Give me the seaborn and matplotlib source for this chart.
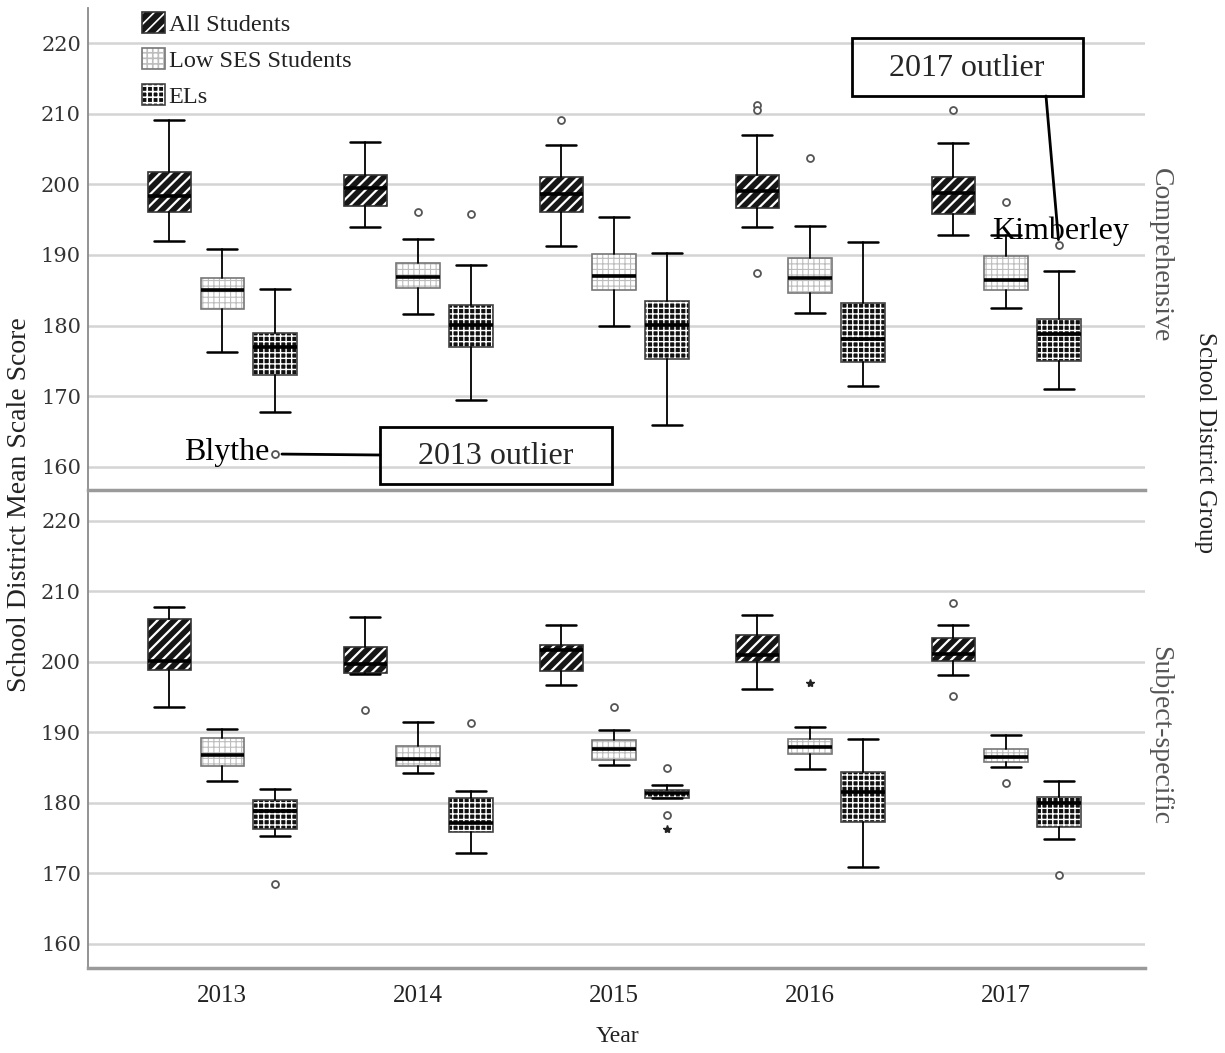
import matplotlib
matplotlib.use("Agg")
import matplotlib.pyplot as plt
import seaborn as sns
from matplotlib.patches import Patch, Rectangle

# ---------------- data ----------------
years = ["2013", "2014", "2015", "2016", "2017"]
groups = ["All Students", "Low SES Students", "ELs"]
panels = ["Comprehensive", "Subject-specific"]

# rows = years; [lower whisker, Q1, median, Q3, upper whisker]
comp_all = [[192.0, 196.1, 198.3, 201.7, 209.1],
            [194.0, 196.9, 199.5, 201.4, 206.0],
            [191.3, 196.1, 198.6, 201.1, 205.6],
            [193.9, 196.7, 199.1, 201.4, 207.0],
            [192.9, 195.8, 198.8, 201.1, 205.9]]
comp_low = [[176.2, 182.4, 185.0, 186.7, 190.8],
            [181.6, 185.3, 186.9, 188.8, 192.2],
            [180.0, 185.1, 187.0, 190.1, 195.4],
            [181.8, 184.6, 186.8, 189.6, 194.1],
            [182.5, 185.1, 186.4, 189.9, 192.8]]
comp_el = [[167.8, 173.0, 176.9, 179.0, 185.2],
           [169.5, 177.0, 180.1, 182.9, 188.6],
           [165.9, 175.2, 180.1, 183.5, 190.3],
           [171.4, 174.8, 178.1, 183.2, 191.8],
           [171.0, 175.0, 178.8, 181.0, 187.8]]
comp_all_out = [[], [], [209.2], [211.2, 210.6, 187.4], [210.5]]
comp_low_out = [[], [196.1], [], [203.8], [197.5]]
comp_el_out = [[161.8], [195.8], [], [], [191.4]]

subj_all = [[193.5, 198.8, 200.1, 206.0, 207.7],
            [198.2, 198.4, 199.7, 202.1, 206.3],
            [196.7, 198.7, 201.7, 202.3, 205.2],
            [196.1, 200.0, 201.0, 203.7, 206.6],
            [198.1, 200.1, 201.1, 203.4, 205.2]]
subj_low = [[183.1, 185.2, 186.8, 189.1, 190.4],
            [184.2, 185.2, 186.2, 188.0, 191.5],
            [185.3, 186.0, 187.6, 188.9, 190.3],
            [184.7, 186.9, 187.9, 189.0, 190.7],
            [185.1, 185.7, 186.4, 187.6, 189.6]]
subj_el = [[175.3, 176.2, 178.8, 180.4, 181.9],
           [172.9, 175.8, 177.1, 180.7, 181.6],
           [180.6, 180.6, 181.3, 181.8, 182.5],
           [170.9, 177.2, 181.5, 184.4, 189.0],
           [174.8, 176.5, 179.9, 180.8, 183.0]]
subj_all_out = [[], [193.2], [], [], [208.3, 195.1]]
subj_low_out = [[], [], [193.6], [], [182.8]]
subj_el_out = [[168.5], [191.3], [184.9, 178.3], [], [169.8]]
# extreme outliers (drawn as stars)
subj_low_ext = [[], [], [], [196.9], []]
subj_el_ext = [[], [], [176.2], [], []]
no_ext = [[], [], [], [], []]

panel_stats = {
    "Comprehensive": ([comp_all, comp_low, comp_el],
                      [comp_all_out, comp_low_out, comp_el_out],
                      [no_ext, no_ext, no_ext]),
    "Subject-specific": ([subj_all, subj_low, subj_el],
                         [subj_all_out, subj_low_out, subj_el_out],
                         [no_ext, subj_low_ext, subj_el_ext]),
}

# ---------------- style ----------------
sns.set_theme(style="whitegrid")
plt.rcParams["font.family"] = ["Liberation Serif", "DejaVu Serif"]
plt.rcParams["hatch.linewidth"] = 1.2

W, H = 1225, 1053
fig = plt.figure(figsize=(W / 100, H / 100), dpi=100)
fig.patch.set_facecolor("white")


def fp(x, y):
    return (x / W, 1 - y / H)


ax_top = fig.add_axes([88 / W, 1 - 490 / H, (1145 - 88) / W, (490 - 8) / H])
ax_bot = fig.add_axes([88 / W, 1 - 968 / H, (1145 - 88) / W, (968 - 493) / H])
axes = {"Comprehensive": ax_top, "Subject-specific": ax_bot}
ylims = {"Comprehensive": (156.7, 225.0), "Subject-specific": (156.55, 223.9)}

offsets = [-0.27, 0.0, 0.27]
box_w = 0.22
styles = [
    dict(face="#161616", edge="#333333", hatch="///", hcolor="white", hlw=1.6),
    dict(face="white", edge="#777777", hatch="+++", hcolor="#bdbdbd", hlw=0.8),
    dict(face="#111111", edge="#444444", hatch="+++", hcolor="white", hlw=1.0),
]


def style_patch(p, st):
    p.set_facecolor(st["face"])
    p.set_edgecolor(st["edge"])
    p.set_hatch(st["hatch"])
    p._hatch_color = matplotlib.colors.to_rgba(st["hcolor"])
    try:
        p.set_hatch_linewidth(st["hlw"])
    except AttributeError:
        pass


for pname in panels:
    ax = axes[pname]
    ax.set_facecolor("white")
    box_sets, out_sets, ext_sets = panel_stats[pname]
    for gi, (boxes, outs, exts) in enumerate(zip(box_sets, out_sets, ext_sets)):
        stats = []
        positions = []
        for yi, yr in enumerate(years):
            lo, q1, med, q3, hi = boxes[yi]
            stats.append(dict(whislo=lo, q1=q1, med=med, q3=q3, whishi=hi,
                              fliers=outs[yi], label=yr))
            positions.append(yi + offsets[gi])
        art = ax.bxp(stats, positions=positions, widths=box_w, capwidths=0.155,
                     patch_artist=True, manage_ticks=False,
                     medianprops=dict(color="black", lw=2.6, solid_capstyle="butt"),
                     whiskerprops=dict(color="black", lw=1.3),
                     capprops=dict(color="black", lw=1.8),
                     flierprops=dict(marker="o", markersize=5, markerfacecolor="white",
                                     markeredgecolor="#555555", markeredgewidth=1.3,
                                     linestyle="none"),
                     boxprops=dict(lw=1.2))
        for b in art["boxes"]:
            style_patch(b, styles[gi])
        for yi in range(len(years)):
            if exts[yi]:
                ax.plot([yi + offsets[gi]] * len(exts[yi]), exts[yi], ls="none",
                        marker="*", markersize=6, color="#222222", zorder=4)

    ax.set_xlim(-0.684, 4.709)
    ax.set_ylim(*ylims[pname])
    ax.set_yticks([160, 170, 180, 190, 200, 210, 220])
    ax.set_yticklabels([str(v) for v in [160, 170, 180, 190, 200, 210, 220]],
                       fontfamily="DejaVu Serif", fontsize=15, color="#333333")
    ax.set_xticks(range(len(years)))
    ax.grid(axis="y", color="#d4d4d4", lw=1.8)
    ax.grid(axis="x", visible=False)
    ax.tick_params(axis="both", length=0)
    ax.tick_params(axis="y", pad=5)
    for s in ["top", "right"]:
        ax.spines[s].set_visible(False)
    ax.spines["left"].set_color("#8a8a8a")
    ax.spines["left"].set_linewidth(1.3)
    ax.spines["bottom"].set_color("#9a9a9a")
    ax.spines["bottom"].set_linewidth(2.5)
    ax.set_axisbelow(True)

ax_top.set_xticklabels([])
ax_bot.set_xticklabels(years, fontsize=18, color="#222222")
ax_bot.tick_params(axis="x", pad=12)

# panel / axis labels
fig.text(*fp(20, 505), "School District Mean Scale Score", rotation=90,
         ha="center", va="center", fontsize=20, color="#222222")
fig.text(*fp(617, 1036), "Year", ha="center", va="center", fontsize=17, color="#222222")
fig.text(*fp(1160, 255), "Comprehensive", rotation=-90, ha="center", va="center",
         fontsize=20, color="#555555")
fig.text(*fp(1160, 735), "Subject-specific", rotation=-90, ha="center", va="center",
         fontsize=20, color="#555555")
fig.text(*fp(1205, 443), "School District Group", rotation=-90, ha="center",
         va="center", fontsize=18, color="#222222")

# legend
handles = []
for st in styles:
    p = Patch(facecolor=st["face"], edgecolor=st["edge"], hatch=st["hatch"], lw=1.2)
    p._hatch_color = matplotlib.colors.to_rgba(st["hcolor"])
    handles.append(p)
leg = fig.legend(handles, groups, loc="upper left", bbox_to_anchor=fp(142, 12),
                 frameon=False, fontsize=17.5, handlelength=0.95, handleheight=0.95,
                 handletextpad=0.15, labelspacing=0.5, borderpad=0, borderaxespad=0)
for i, p in enumerate(leg.get_patches()):
    st = styles[i]
    p.set_hatch(st["hatch"])
    p._hatch_color = matplotlib.colors.to_rgba(st["hcolor"])
for t in leg.get_texts():
    t.set_color("#222222")

# annotations
el_pos_2013 = 0 + offsets[2]
blythe_val = comp_el_out[0][0]
ax_top.annotate("Blythe", xy=(el_pos_2013, blythe_val), xytext=(-4, 1),
                textcoords="offset points", ha="right", va="center",
                fontsize=23, color="black")
ax_top.annotate("", xy=(el_pos_2013, blythe_val), xytext=(380, H - 455),
                textcoords="figure pixels",
                arrowprops=dict(arrowstyle="-", lw=2, color="black",
                                shrinkA=0, shrinkB=5))
fig.add_artist(Rectangle(fp(380, 484), 232 / W, 57 / H, transform=fig.transFigure,
                         fill=False, lw=2, edgecolor="black"))
fig.text(*fp(496, 457), "2013 outlier", ha="center", va="center", fontsize=23)

el_pos_2017 = 4 + offsets[2]
kim_val = comp_el_out[4][0]
ax_top.annotate("Kimberley", xy=(el_pos_2017, kim_val), xytext=(1, 10),
                textcoords="offset points", ha="center", va="center",
                fontsize=23, color="black", zorder=6)
ax_top.annotate("", xy=(el_pos_2017, kim_val), xytext=(1046, H - 96),
                textcoords="figure pixels",
                arrowprops=dict(arrowstyle="-", lw=2, color="black",
                                shrinkA=0, shrinkB=4))
fig.add_artist(Rectangle(fp(852, 96), 231 / W, 58 / H, transform=fig.transFigure,
                         fill=False, lw=2, edgecolor="black"))
fig.text(*fp(967, 68), "2017 outlier", ha="center", va="center", fontsize=23)

fig.savefig("out.png", dpi=100, facecolor="white")
